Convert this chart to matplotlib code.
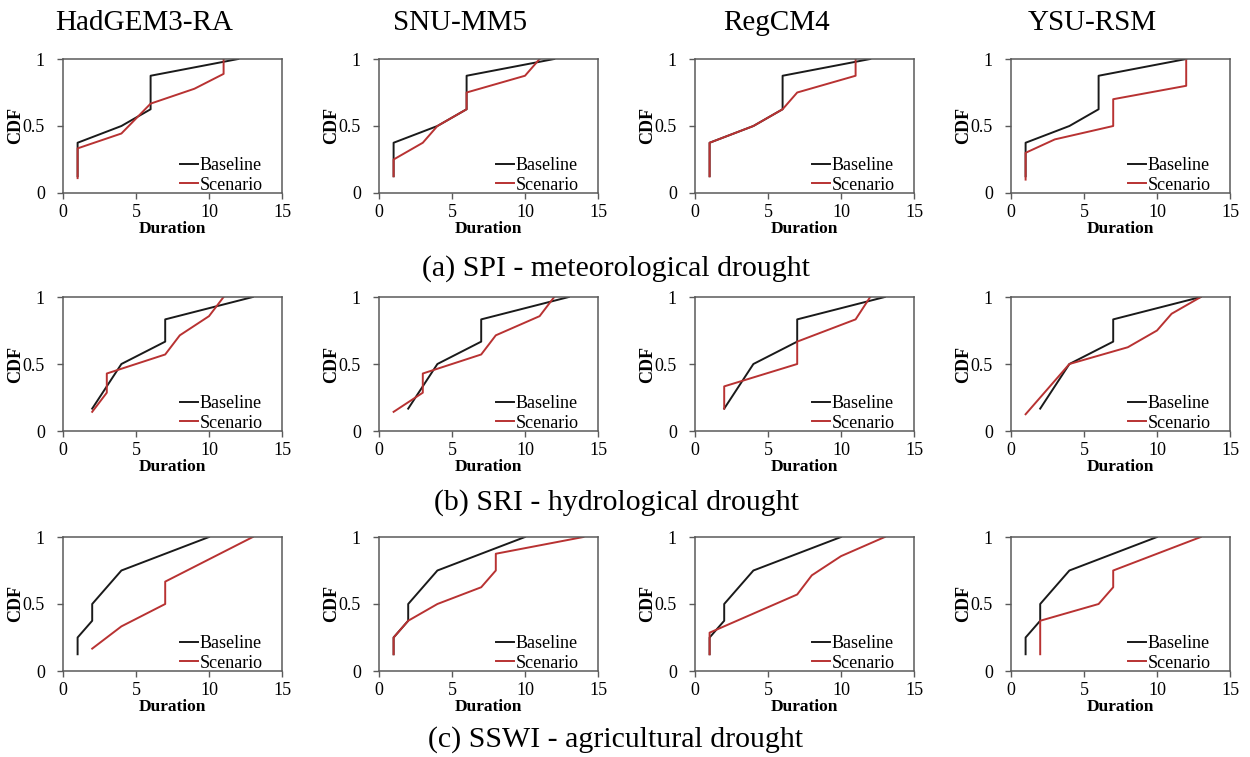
import matplotlib
matplotlib.use('Agg')
import matplotlib.pyplot as plt

plt.rcParams['font.family'] = ['Liberation Serif', 'DejaVu Serif']

models = ['HadGEM3-RA', 'SNU-MM5', 'RegCM4', 'YSU-RSM']
captions = ['(a) SPI - meteorological drought',
            '(b) SRI - hydrological drought',
            '(c) SSWI - agricultural drought']
xticks = [0, 5, 10, 15]
yticks = [0, 0.5, 1]
ytick_labels = ['0', '0.5', '1']

# baseline CDF (same observed series in every model column)
spi_base_x = [1, 1, 4, 6, 6, 12]
spi_base_y = [0.125, 0.375, 0.5, 0.625, 0.875, 1.0]
sri_base_x = [2, 4, 7, 7, 13]
sri_base_y = [0.167, 0.5, 0.667, 0.833, 1.0]
sswi_base_x = [1, 1, 2, 2, 4, 10]
sswi_base_y = [0.125, 0.25, 0.375, 0.5, 0.75, 1.0]

# scenario CDF, one list per model (same order as models)
spi_scen_x = [[1, 1, 4, 6, 9, 11, 11],
              [1, 1, 3, 4, 6, 6, 10, 11],
              [1, 1, 4, 6, 7, 11, 11],
              [1, 1, 3, 7, 7, 12, 12]]
spi_scen_y = [[0.111, 0.333, 0.444, 0.667, 0.778, 0.889, 1.0],
              [0.125, 0.25, 0.375, 0.5, 0.625, 0.75, 0.875, 1.0],
              [0.125, 0.375, 0.5, 0.625, 0.75, 0.875, 1.0],
              [0.1, 0.3, 0.4, 0.5, 0.7, 0.8, 1.0]]

sri_scen_x = [[2, 3, 3, 7, 8, 10, 11],
              [1, 3, 3, 7, 8, 11, 12],
              [2, 2, 7, 7, 11, 12],
              [1, 4, 8, 10, 11, 13]]
sri_scen_y = [[0.143, 0.286, 0.429, 0.571, 0.714, 0.857, 1.0],
              [0.143, 0.286, 0.429, 0.571, 0.714, 0.857, 1.0],
              [0.167, 0.333, 0.5, 0.667, 0.833, 1.0],
              [0.125, 0.5, 0.625, 0.75, 0.875, 1.0]]

sswi_scen_x = [[2, 4, 7, 7, 13],
               [1, 1, 2, 4, 7, 8, 8, 14],
               [1, 1, 7, 8, 10, 13],
               [2, 2, 6, 7, 7, 13]]
sswi_scen_y = [[0.167, 0.333, 0.5, 0.667, 1.0],
               [0.125, 0.25, 0.375, 0.5, 0.625, 0.75, 0.875, 1.0],
               [0.125, 0.286, 0.571, 0.714, 0.857, 1.0],
               [0.125, 0.375, 0.5, 0.625, 0.75, 1.0]]

rows = [(spi_base_x, spi_base_y, spi_scen_x, spi_scen_y),
        (sri_base_x, sri_base_y, sri_scen_x, sri_scen_y),
        (sswi_base_x, sswi_base_y, sswi_scen_x, sswi_scen_y)]

W, H = 1250, 757
fig = plt.figure(figsize=(W / 100, H / 100), dpi=100)

col_left = [63, 379, 695, 1011]
row_top = [59, 297, 537]
ax_w, ax_h = 219, 134
black = '#1a1a1a'
red = '#b83232'
spine_c = '#5a5a5a'

for r, (bx, by, sx, sy) in enumerate(rows):
    for c in range(4):
        ax = fig.add_axes([col_left[c] / W, 1 - (row_top[r] + ax_h) / H, ax_w / W, ax_h / H])
        ax.plot(bx, by, color=black, lw=1.4, label='Baseline')
        ax.plot(sx[c], sy[c], color=red, lw=1.4, label='Scenario')
        ax.set_xlim(0, 15)
        ax.set_ylim(0, 1)
        ax.set_xticks(xticks)
        ax.set_yticks(yticks)
        ax.set_yticklabels(ytick_labels)
        ax.tick_params(direction='out', length=4, width=1, color=spine_c, labelsize=13)
        ax.tick_params(axis='x', pad=4)
        ax.tick_params(axis='y', pad=9)
        for s in ax.spines.values():
            s.set_color(spine_c)
            s.set_linewidth(1.1)
        ax.set_xlabel('Duration', fontsize=12.5, fontweight='bold', labelpad=0)
        ax.set_ylabel('CDF', fontsize=13, fontweight='bold', labelpad=-1)
        ax.legend(loc='lower right', bbox_to_anchor=(0.96, -0.085), frameon=False,
                  fontsize=13, handlelength=1.0, handletextpad=0.1,
                  labelspacing=0.15, borderaxespad=0.2)

# model names over the columns
for c, name in enumerate(models):
    cx = (col_left[c] + ax_w / 2 - 28) / W
    fig.text(cx, 1 - 23 / H, name, ha='center', va='center', fontsize=21)

# captions under each row
cap_y = [269, 503, 740]
for r, cap in enumerate(captions):
    fig.text(616 / W, 1 - cap_y[r] / H, cap, ha='center', va='center', fontsize=21.5)

fig.savefig('out.png', dpi=100)
